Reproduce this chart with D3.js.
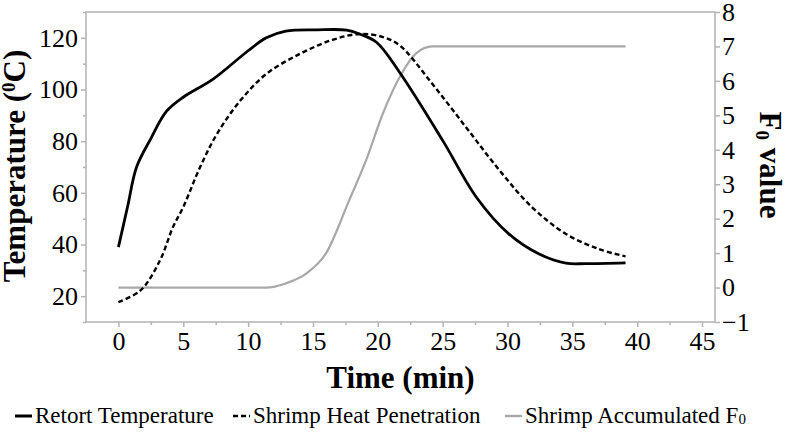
<!DOCTYPE html>
<html>
<head>
<meta charset="utf-8">
<script src="https://cdn.jsdelivr.net/npm/d3@7"></script>
</head>
<body style="margin:0">
<svg id="chart" width="785" height="432"></svg>
<script>
// retort temperature (left axis, degC)
var retortTime = [0, 0.7, 1.4, 2.5, 3.7, 5, 7.3, 10, 11.4, 12.9, 15.3, 17.6, 18.6, 19.9, 21.7, 25, 27.6, 30.1, 32.4, 34.5, 36, 39.1]
var retortTemp = [39, 54.5, 70, 81, 91.5, 97, 104, 115, 120, 122.6, 123.1, 123, 121.5, 118.3, 106.5, 80.3, 58.3, 44.1, 36.4, 32.8, 32.6, 32.9]

// shrimp heat penetration (left axis, degC)
var penTime = [0, 1.7, 3.2, 4.2, 5, 6.3, 7.6, 9.4, 11.4, 14, 16.5, 18.6, 20.4, 21.7, 24.2, 26.8, 29.4, 31.9, 34.5, 37, 39.1]
var penTemp = [17.7, 22.2, 33.8, 46.7, 54.5, 70, 82.8, 95.7, 106, 113.8, 119.2, 121.5, 120.3, 117, 102.2, 85.4, 68.6, 54.4, 44.1, 38.3, 35.4]

// shrimp accumulated F0 (right axis)
var f0Time = [0, 11.4, 12.9, 14.5, 16, 17.8, 19.1, 20.4, 21.7, 22.95, 24.2, 26, 39.1]
var f0Value = [0, 0, 0.12, 0.41, 0.99, 2.54, 3.7, 5.06, 6.12, 6.8, 7.0, 7.0, 7.0]

var xTicks = [0, 5, 10, 15, 20, 25, 30, 35, 40, 45]
var leftTicks = [20, 40, 60, 80, 100, 120]
var rightTicks = [-1, 0, 1, 2, 3, 4, 5, 6, 7, 8]

var svg = d3.select("#chart"),
  margin = {top: 12, right: 70, bottom: 110, left: 86},
  width = +svg.attr("width") - margin.left - margin.right,
  height = +svg.attr("height") - margin.top - margin.bottom;

var x = d3.scaleLinear().domain([-2.5, 46]).range([0, width]),
  yL = d3.scaleLinear().domain([10, 130]).range([height, 0]),
  yR = d3.scaleLinear().domain([-1, 8]).range([height, 0]);

var g = svg.append("g").attr("transform", "translate(" + margin.left + "," + margin.top + ")");
var axisColor = "#b3b3b3";
var serif = "Liberation Serif";

// frame
g.append("rect")
  .attr("x", 0).attr("y", 0)
  .attr("width", width).attr("height", height)
  .attr("fill", "none")
  .attr("stroke", axisColor)
  .attr("stroke-width", 1.5);

function styleAxis(sel, size) {
  sel.attr("font-family", serif).attr("font-size", size);
  sel.select(".domain").remove();
  sel.selectAll("line").attr("stroke", axisColor).attr("stroke-width", 1.5);
  sel.selectAll("text")
    .attr("font-family", serif)
    .attr("font-size", size)
    .attr("fill", "#000");
}

// minor ticks
g.append("g").attr("transform", "translate(0," + height + ")")
  .call(d3.axisBottom(x).tickValues(d3.range(2.5, 46, 5)).tickSize(3).tickFormat(""))
  .call(styleAxis, 26);
g.append("g")
  .call(d3.axisLeft(yL).tickValues(d3.range(10, 131, 20)).tickSize(3).tickFormat(""))
  .call(styleAxis, 26);

g.append("g").attr("transform", "translate(0," + height + ")")
  .call(d3.axisBottom(x).tickValues(xTicks).tickSize(5).tickPadding(5))
  .call(styleAxis, 26);
g.append("g")
  .call(d3.axisLeft(yL).tickValues(leftTicks).tickSize(5).tickPadding(3))
  .call(styleAxis, 26);
g.append("g").attr("transform", "translate(" + width + ",0)")
  .call(d3.axisRight(yR).tickValues(rightTicks).tickSize(5).tickPadding(2))
  .call(styleAxis, 26);

// lines
var lineL = d3.line().curve(d3.curveCatmullRom.alpha(0.5)).x(d => x(d[0])).y(d => yL(d[1]));
var lineR = d3.line().curve(d3.curveMonotoneX).x(d => x(d[0])).y(d => yR(d[1]));

g.append("path")
  .datum(d3.zip(f0Time, f0Value))
  .attr("d", lineR)
  .attr("fill", "none")
  .attr("stroke", "#a8a8a8")
  .attr("stroke-width", 2.2);

g.append("path")
  .datum(d3.zip(penTime, penTemp))
  .attr("d", lineL)
  .attr("fill", "none")
  .attr("stroke", "#000")
  .attr("stroke-width", 2.4)
  .attr("stroke-dasharray", "5,3");

g.append("path")
  .datum(d3.zip(retortTime, retortTemp))
  .attr("d", lineL)
  .attr("fill", "none")
  .attr("stroke", "#000")
  .attr("stroke-width", 2.8);

// axis titles
svg.append("text")
  .attr("x", margin.left + width / 2)
  .attr("y", 388)
  .attr("text-anchor", "middle")
  .attr("font-family", serif)
  .attr("font-size", 31)
  .attr("font-weight", "bold")
  .text("Time (min)");

var yt = svg.append("text")
  .attr("transform", "translate(25,166) rotate(-90)")
  .attr("text-anchor", "middle")
  .attr("font-family", serif)
  .attr("font-size", 31)
  .attr("font-weight", "bold");
yt.append("tspan").text("Temperature (");
yt.append("tspan").attr("font-size", 19).attr("dy", -10).text("0");
yt.append("tspan").attr("dy", 10).text("C)");

var rt = svg.append("text")
  .attr("transform", "translate(760,165) rotate(90)")
  .attr("text-anchor", "middle")
  .attr("font-family", serif)
  .attr("font-size", 31)
  .attr("font-weight", "bold");
rt.append("tspan").text("F");
rt.append("tspan").attr("font-size", 19).attr("dy", 4).text("0");
rt.append("tspan").attr("dy", -4).text(" value");

// legend
var legend = [
  {name: "Retort Temperature", x: 15, color: "#000", dash: null, w: 3},
  {name: "Shrimp Heat Penetration", x: 233, color: "#000", dash: "5,3", w: 2.4},
  {name: "Shrimp Accumulated F", x: 505, color: "#a8a8a8", dash: null, w: 2.4, sub: "0"}
];
var lg = svg.append("g");
legend.forEach(function(d) {
  lg.append("line")
    .attr("x1", d.x).attr("x2", d.x + 17)
    .attr("y1", 416).attr("y2", 416)
    .attr("stroke", d.color)
    .attr("stroke-width", d.w)
    .attr("stroke-dasharray", d.dash);
  var t = lg.append("text")
    .attr("x", d.x + 20)
    .attr("y", 423)
    .attr("font-family", serif)
    .attr("font-size", 23)
    .text(d.name);
  if (d.sub) {
    t.append("tspan").attr("font-size", 15).attr("dy", 1).text(d.sub);
  }
});
</script>
</body>
</html>
